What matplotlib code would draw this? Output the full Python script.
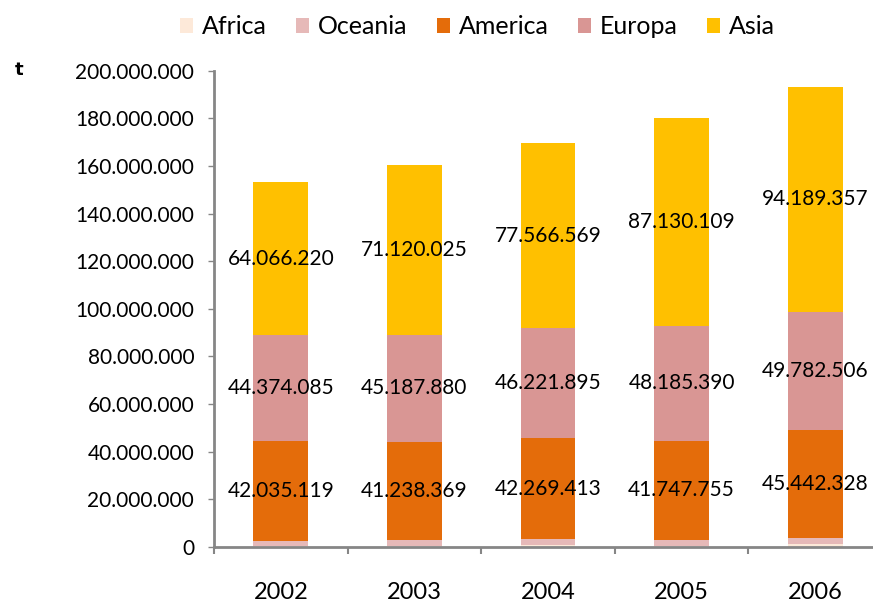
import numpy as np
import matplotlib.pyplot as plt
from matplotlib.ticker import FuncFormatter, MultipleLocator

years = ["2002", "2003", "2004", "2005", "2006"]
africa = [400000, 500000, 1000000, 600000, 1100000]
oceania = [2200000, 2300000, 2400000, 2300000, 2500000]
america = [42035119, 41238369, 42269413, 41747755, 45442328]
europa = [44374085, 45187880, 46221895, 48185390, 49782506]
asia = [64066220, 71120025, 77566569, 87130109, 94189357]

plt.rcParams['font.family'] = ['Lato', 'DejaVu Sans']

def dots(v, pos=None):
    return f"{int(round(v)):,}".replace(",", ".")

series = [
    ("Africa", africa, "#FDE9D9", False),
    ("Oceania", oceania, "#E6B9B8", False),
    ("America", america, "#E46C0A", True),
    ("Europa", europa, "#D99694", True),
    ("Asia", asia, "#FFC000", True),
]

fig = plt.figure(figsize=(8.73, 6.03), dpi=100)
ax = fig.add_axes([214 / 873, 1 - 547 / 603, 668 / 873, 476.3 / 603])

x = np.arange(len(years))
bottom = np.zeros(len(years))
for name, vals, color, labelled in series:
    vals = np.array(vals, dtype=float)
    ax.bar(x, vals, 0.41, bottom=bottom, color=color, label=name, zorder=2)
    if labelled:
        for xi, b, v in zip(x, bottom, vals):
            ax.text(xi, b + v / 2, dots(v), ha="center", va="center",
                    fontsize=15, color="black", zorder=3)
    bottom += vals

ax.set_xlim(-0.5, 4.5)
ax.set_ylim(0, 200000000)
ax.yaxis.set_major_locator(MultipleLocator(20000000))
ax.yaxis.set_major_formatter(FuncFormatter(dots))

ax.set_xticks(x)
ax.set_xticklabels(years)
ax.set_xticks(np.arange(-0.5, 5, 1), minor=True)
ax.tick_params(axis="x", which="major", length=0, pad=25, labelsize=17)
ax.tick_params(axis="x", which="minor", length=5, width=1.5, color="#868686")
ax.tick_params(axis="y", length=4.3, width=1, color="#868686", pad=10, labelsize=15)

for s in ["top", "right"]:
    ax.spines[s].set_visible(False)
for s in ["left", "bottom"]:
    ax.spines[s].set_color("#868686")
    ax.spines[s].set_linewidth(2)

fig.legend(loc="upper center", bbox_to_anchor=(0.547, 1.012), ncol=5, frameon=False,
           fontsize=18, handlelength=0.52, handleheight=0.52, handletextpad=0.38,
           columnspacing=1.15)

fig.text(15 / 873, 1 - 70 / 603, "t", fontsize=13, fontweight="bold",
         family="DejaVu Sans", va="center", ha="left")

fig.savefig("out.png", dpi=100)
